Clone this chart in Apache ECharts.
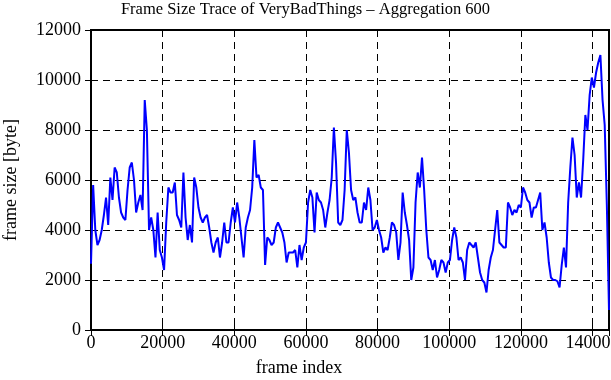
<!DOCTYPE html>
<html>
<head>
<meta charset="utf-8">
<title>Frame Size Trace</title>
<script src="https://cdn.jsdelivr.net/npm/echarts@6/dist/echarts.min.js"></script>
<style>
  html, body { margin: 0; padding: 0; background: #fff; }
  #chart { width: 611px; height: 380px; }
</style>
</head>
<body>
<div id="chart"></div>
<script>
// aggregated frame sizes, one value every 600 frames
var aggStep = 600;
var frameSizes = [
    2650, 5800, 4000, 3400, 3600, 4000, 4600, 5300, 4200, 6100,
    5200, 6500, 6300, 5300, 4700, 4500, 4400, 5600, 6500, 6700,
    6000, 4700, 5100, 5400, 4800, 9200, 8000, 4000, 4500, 4000,
    2900, 4700, 3200, 2900, 2400, 4300, 5700, 5500, 5500, 5900,
    4600, 4400, 4100, 6300, 4500, 3600, 4200, 3500, 6100, 5700,
    4900, 4500, 4300, 4500, 4600, 4100, 3500, 3100, 3500, 3700,
    2900, 3500, 4300, 3500, 3500, 4300, 4900, 4300, 5100, 4500,
    3700, 2900, 4100, 4500, 4800, 5700, 7600, 6100, 6200, 5700,
    5600, 2600, 3700, 3600, 3400, 3500, 4100, 4300, 4100, 3900,
    3500, 2700, 3100, 3100, 3100, 3200, 2500, 3400, 2800, 3300,
    3500, 5100, 5600, 5300, 3900, 5500, 5200, 5100, 4800, 4100,
    4700, 5200, 6100, 8100, 6700, 4300, 4200, 4400, 5600, 8000,
    7100, 5600, 5200, 5300, 4700, 4300, 4300, 5100, 4800, 5700,
    5200, 4000, 4100, 4400, 4000, 3700, 3100, 3300, 3200, 3700,
    4300, 4200, 3900, 2800, 3500, 5500, 4700, 4200, 3600, 2000,
    2500, 5100, 6300, 5700, 6900, 5600, 4000, 2900, 2800, 2400,
    2800, 2100, 2400, 2800, 2700, 2300, 2700, 2800, 3600, 4100,
    3700, 2800, 2900, 2700, 2000, 3200, 3500, 3400, 3300, 3500,
    2900, 2300, 2000, 1900, 1500, 2400, 2900, 3200, 4000, 4800,
    3500, 3400, 3300, 3300, 5100, 4900, 4600, 4800, 4700, 5000,
    4900, 5700, 5500, 5200, 5100, 4500, 4900, 4900, 5200, 5500,
    4000, 4300, 3700, 2700, 2100, 2000, 2000, 1950, 1700, 2600,
    3300, 2500, 5100, 6500, 7700, 7000, 5300, 5900, 5300, 6800,
    8600, 8000, 9400, 10100, 9700, 10300, 10700, 11000, 9200, 8200,
    5000, 800
];
var xTicks = [0, 20000, 40000, 60000, 80000, 100000, 120000, 140000];
var yTicks = [0, 2000, 4000, 6000, 8000, 10000, 12000];

var seriesData = frameSizes.map(function (v, i) {
    return [i * aggStep, v];
});
var xMax = (frameSizes.length - 1) * aggStep;

var font = 'Liberation Serif';
var myChart = echarts.init(document.getElementById('chart'));

var tickStyle = { show: true, inside: true, length: 6, lineStyle: { color: '#000', width: 1 } };
var dashGrid = { show: true, lineStyle: { color: '#000', width: 1, type: [7, 5] } };

var option = {
    animation: false,
    backgroundColor: '#fff',
    title: {
        text: 'Frame Size Trace of VeryBadThings \u2013 Aggregation 600',
        left: 'center',
        top: 1,
        padding: 0,
        textStyle: { fontFamily: font, fontWeight: 'normal', fontSize: 16.5, color: '#000' }
    },
    grid: {
        left: 91, right: 2, top: 30, bottom: 50,
        outerBoundsMode: 'none',
        containLabel: false,
        show: true, borderColor: '#000', borderWidth: 2
    },
    xAxis: [
        {
            type: 'value',
            min: 0,
            max: xMax,
            interval: 20000,
            name: 'frame index',
            nameLocation: 'middle',
            nameGap: 29,
            nameTextStyle: { fontFamily: font, fontSize: 18, color: '#000', padding: [0, 102, 0, 0] },
            axisLine: { show: true, lineStyle: { color: '#000', width: 2 } },
            axisTick: tickStyle,
            axisLabel: {
                fontFamily: font, fontSize: 18, color: '#000', margin: 4,
                showMaxLabel: false,
                formatter: function (v) { return xTicks.indexOf(v) >= 0 ? String(v) : ''; }
            },
            splitLine: dashGrid
        },
        {
            type: 'value',
            position: 'top',
            min: 0,
            max: xMax,
            interval: 20000,
            axisLine: { show: true, lineStyle: { color: '#000', width: 2 } },
            axisTick: tickStyle,
            axisLabel: { show: false },
            splitLine: { show: false }
        }
    ],
    yAxis: [
        {
            type: 'value',
            min: yTicks[0],
            max: yTicks[yTicks.length - 1],
            interval: 2000,
            name: 'frame size [byte]',
            nameLocation: 'middle',
            nameGap: 71,
            nameTextStyle: { fontFamily: font, fontSize: 18, color: '#000' },
            axisLine: { show: true, lineStyle: { color: '#000', width: 2 } },
            axisTick: tickStyle,
            axisLabel: {
                fontFamily: font, fontSize: 18, color: '#000', margin: 10,
                formatter: function (v) { return String(v); }
            },
            splitLine: dashGrid
        },
        {
            type: 'value',
            position: 'right',
            min: yTicks[0],
            max: yTicks[yTicks.length - 1],
            interval: 2000,
            axisLine: { show: true, lineStyle: { color: '#000', width: 2 } },
            axisTick: tickStyle,
            axisLabel: { show: false },
            splitLine: { show: false }
        }
    ],
    series: [
        {
            name: 'frame size',
            type: 'line',
            xAxisIndex: 0,
            yAxisIndex: 0,
            data: seriesData,
            showSymbol: false,
            lineStyle: { color: '#0000ff', width: 2 },
            z: 3
        }
    ]
};

myChart.setOption(option);
window.addEventListener('resize', function () {
    myChart.resize();
});
</script>
</body>
</html>
